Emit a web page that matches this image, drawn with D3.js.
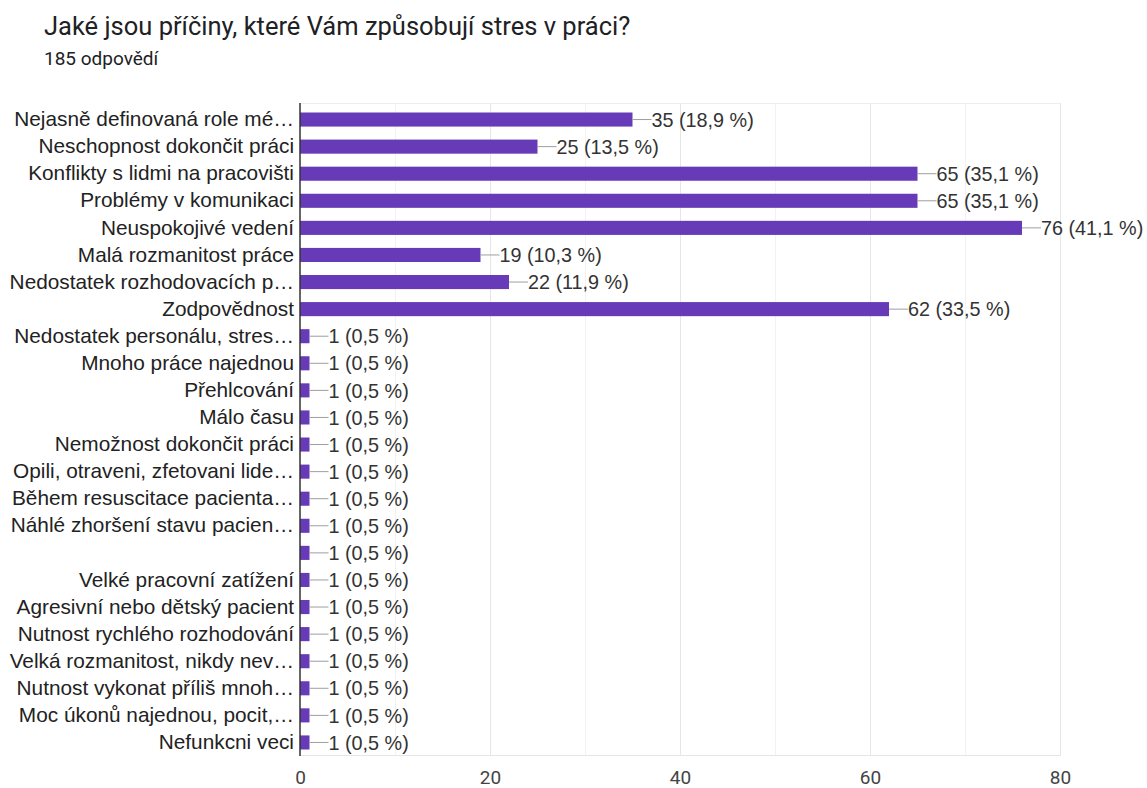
<!DOCTYPE html>
<html>
<head>
<meta charset="utf-8">
<script src="https://cdn.jsdelivr.net/npm/d3@7"></script>
<style>
  html, body { margin: 0; padding: 0; background: #fff; }
  svg { display: block; }
</style>
</head>
<body>
<svg id="chart" width="1147" height="788"></svg>
<script>
// Survey answers: stress causes at work (185 respondents)
const categories = [
  "Nejasně definovaná role mé…",
  "Neschopnost dokončit práci",
  "Konflikty s lidmi na pracovišti",
  "Problémy v komunikaci",
  "Neuspokojivé vedení",
  "Malá rozmanitost práce",
  "Nedostatek rozhodovacích p…",
  "Zodpovědnost",
  "Nedostatek personálu, stres…",
  "Mnoho práce najednou",
  "Přehlcování",
  "Málo času",
  "Nemožnost dokončit práci",
  "Opili, otraveni, zfetovani lide…",
  "Během resuscitace pacienta…",
  "Náhlé zhoršení stavu pacien…",
  " ",
  "Velké pracovní zatížení",
  "Agresivní nebo dětský pacient",
  "Nutnost rychlého rozhodování",
  "Velká rozmanitost, nikdy nev…",
  "Nutnost vykonat příliš mnoh…",
  "Moc úkonů najednou, pocit,…",
  "Nefunkcni veci"
];
const counts = [35, 25, 65, 65, 76, 19, 22, 62, 1, 1, 1, 1, 1, 1, 1, 1, 1, 1, 1, 1, 1, 1, 1, 1];
const percents = ["18,9", "13,5", "35,1", "35,1", "41,1", "10,3", "11,9", "33,5",
  "0,5", "0,5", "0,5", "0,5", "0,5", "0,5", "0,5", "0,5",
  "0,5", "0,5", "0,5", "0,5", "0,5", "0,5", "0,5", "0,5"];
const xTicks = [0, 20, 40, 60, 80];
const xMinorTicks = [10, 30, 50, 70];

const title = "Jaké jsou příčiny, které Vám způsobují stres v práci?";
const subtitle = "185 odpovědí";

const svg = d3.select("#chart");

const plot = { left: 300, right: 1060, top: 103, bottom: 755 };

const x = d3.scaleLinear().domain([0, 80]).range([plot.left, plot.right]);
const y = d3.scaleBand()
  .domain(d3.range(categories.length))
  .range([plot.top + 3, plot.bottom + 1])
  .paddingInner(0.48)
  .paddingOuter(0.24);

const sans = "Arial, 'Liberation Sans', sans-serif";

// Title block
svg.append("text")
  .attr("x", 44).attr("y", 35)
  .attr("font-family", "Roboto, sans-serif")
  .attr("font-size", 25.5)
  .attr("fill", "#202124")
  .text(title);
svg.append("text")
  .attr("x", 44).attr("y", 65)
  .attr("font-family", "Roboto, sans-serif")
  .attr("font-size", 19)
  .attr("fill", "#202124")
  .text(subtitle);

// Grid
const grid = svg.append("g");
grid.selectAll("line.minor").data(xMinorTicks).join("line")
  .attr("class", "minor")
  .attr("x1", d => x(d) + 0.5).attr("x2", d => x(d) + 0.5)
  .attr("y1", plot.top).attr("y2", plot.bottom)
  .attr("stroke", "#f2f2f2").attr("stroke-width", 1);
grid.selectAll("line.major").data(xTicks.slice(1)).join("line")
  .attr("class", "major")
  .attr("x1", d => x(d) + 0.5).attr("x2", d => x(d) + 0.5)
  .attr("y1", plot.top).attr("y2", plot.bottom)
  .attr("stroke", "#e6e6e6").attr("stroke-width", 1);
grid.append("line")
  .attr("x1", plot.left).attr("x2", plot.right)
  .attr("y1", plot.top + 0.5).attr("y2", plot.top + 0.5)
  .attr("stroke", "#eeeeee");
grid.append("line")
  .attr("x1", plot.left).attr("x2", plot.right + 1)
  .attr("y1", plot.bottom + 0.5).attr("y2", plot.bottom + 0.5)
  .attr("stroke", "#e6e6e6");

// Bars
svg.append("g").selectAll("rect").data(counts).join("rect")
  .attr("x", x(0))
  .attr("y", (d, i) => y(i))
  .attr("width", d => x(d) - x(0))
  .attr("height", y.bandwidth())
  .attr("fill", "#673ab7");

// Leader lines and value labels
const lab = svg.append("g");
lab.selectAll("line").data(counts).join("line")
  .attr("x1", d => x(d)).attr("x2", d => x(d) + 19)
  .attr("y1", (d, i) => y(i) + y.bandwidth() / 2)
  .attr("y2", (d, i) => y(i) + y.bandwidth() / 2)
  .attr("stroke", "#9e9e9e").attr("stroke-width", 1);
lab.selectAll("text").data(counts).join("text")
  .attr("x", d => x(d) + 19)
  .attr("y", (d, i) => y(i) + y.bandwidth() / 2)
  .attr("dy", "0.36em")
  .attr("font-family", sans)
  .attr("font-size", 19.8)
  .attr("fill", "#333")
  .text((d, i) => `${d} (${percents[i]} %)`);

// Category axis
const yAxis = svg.append("g")
  .attr("transform", `translate(${plot.left},0)`)
  .call(d3.axisLeft(y).tickSize(0).tickPadding(6).tickFormat(i => categories[i]));
yAxis.select(".domain").remove();
yAxis.selectAll("text")
  .attr("font-family", sans)
  .attr("font-size", 20.8)
  .attr("fill", "#222");
svg.append("line")
  .attr("x1", plot.left).attr("x2", plot.left)
  .attr("y1", plot.top).attr("y2", plot.bottom + 1)
  .attr("stroke", "#333").attr("stroke-width", 1.5);

// Value axis
const xAxis = svg.append("g")
  .attr("transform", `translate(0,${plot.bottom})`)
  .call(d3.axisBottom(x).tickValues(xTicks).tickSize(0).tickPadding(16));
xAxis.select(".domain").remove();
xAxis.selectAll("text")
  .attr("font-family", "Roboto, sans-serif")
  .attr("font-size", 19)
  .attr("fill", "#444");
</script>
</body>
</html>
